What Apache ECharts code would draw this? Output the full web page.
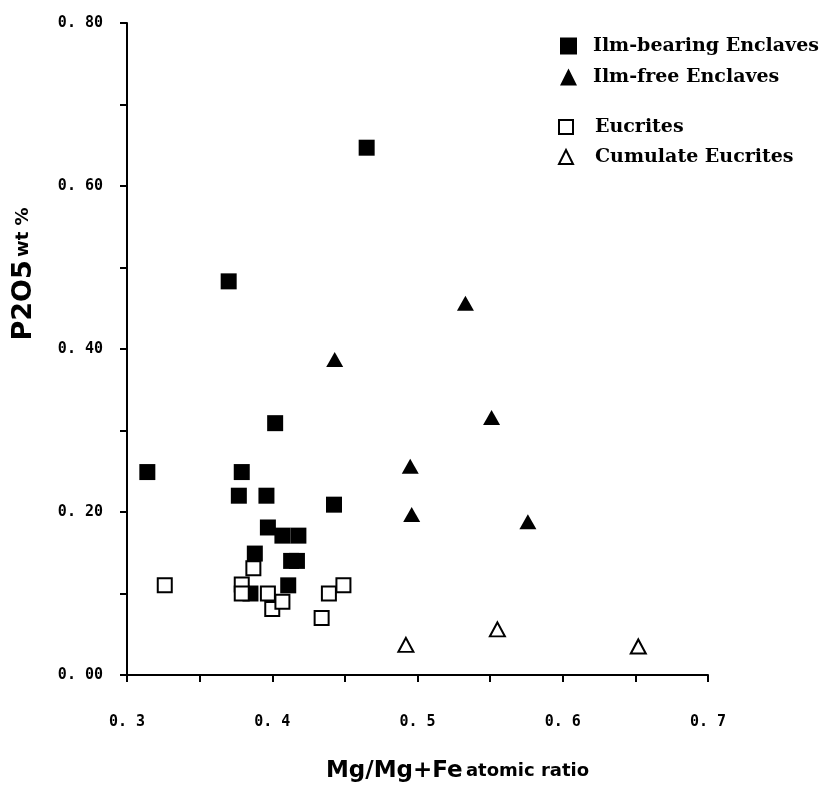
<!DOCTYPE html>
<html>
<head>
<meta charset="utf-8">
<script src="https://cdn.jsdelivr.net/npm/echarts@6/dist/echarts.min.js"></script>
<style>
html,body{margin:0;padding:0;background:#fff;}
#chart{width:829px;height:792px;}
</style>
</head>
<body>
<div id="chart"></div>
<script>
// ---- data ----
var seriesNames = ['Ilm-bearing Enclaves', 'Ilm-free Enclaves', 'Eucrites', 'Cumulate Eucrites'];
var ilmBearing = [[0.465,0.647],[0.370,0.483],[0.402,0.309],[0.314,0.249],[0.379,0.249],[0.377,0.220],[0.396,0.220],[0.4425,0.209],[0.397,0.181],[0.407,0.171],[0.418,0.171],[0.388,0.149],[0.413,0.140],[0.417,0.140],[0.411,0.110],[0.385,0.100]];
var ilmFree = [[0.533,0.456],[0.443,0.387],[0.551,0.316],[0.495,0.256],[0.496,0.197],[0.576,0.188]];
var eucrites = [[0.326,0.110],[0.379,0.111],[0.379,0.100],[0.387,0.131],[0.397,0.100],[0.400,0.081],[0.407,0.090],[0.434,0.070],[0.439,0.100],[0.449,0.110]];
var cumulate = [[0.492,0.037],[0.555,0.056],[0.652,0.035]];
var xTickValues = [0.3, 0.4, 0.5, 0.6, 0.7];
var xTickLabels = ['0. 3', '0. 4', '0. 5', '0. 6', '0. 7'];
var yTickValues = [0, 0.2, 0.4, 0.6, 0.8];
var yTickLabels = ['0. 00', '0. 20', '0. 40', '0. 60', '0. 80'];

function lookup(vals, labels, v) {
  for (var i = 0; i < vals.length; i++) if (Math.abs(vals[i] - v) < 1e-6) return labels[i];
  return '';
}

var chart = echarts.init(document.getElementById('chart'), null, {renderer: 'canvas'});
var tickFont = {fontFamily: '"DejaVu Sans Mono", monospace', fontWeight: 'bold', fontSize: 15, color: '#000'};
function legendText(pad) {
  return {fontFamily: '"DejaVu Serif", serif', fontWeight: 'bold', fontSize: 19, color: '#000', lineHeight: 22, padding: [0,0,0,pad]};
}

var option = {
  backgroundColor: '#fff',
  animation: false,
  grid: {left: 127, right: 121, top: 23, bottom: 117},
  legend: [
    {data: [seriesNames[0], seriesNames[1]], orient: 'vertical', left: 555, top: 30, itemWidth: 17, itemHeight: 17, itemGap: 9, textStyle: legendText(11)},
    {data: [seriesNames[2], seriesNames[3]], orient: 'vertical', left: 553, top: 111, itemWidth: 14, itemHeight: 14, itemGap: 8, textStyle: legendText(17)}
  ],
  xAxis: {
    type: 'value', min: 0.3, max: 0.7, interval: 0.05,
    name: '{a|Mg/Mg+Fe} {b|atomic ratio}',
    nameLocation: 'middle', nameGap: 85,
    nameTextStyle: {
      padding: [0, 0, 0, 80],
      rich: {
        a: {fontFamily: '"DejaVu Sans", sans-serif', fontWeight: 900, fontSize: 23, color: '#000'},
        b: {fontFamily: '"DejaVu Sans", sans-serif', fontWeight: 'bold', fontSize: 18, color: '#000'}
      }
    },
    axisLine: {lineStyle: {color: '#000', width: 2}},
    axisTick: {length: 7, lineStyle: {color: '#000', width: 2}},
    splitLine: {show: false},
    axisLabel: Object.assign({margin: 40, formatter: function (v) { return lookup(xTickValues, xTickLabels, v); }}, tickFont)
  },
  yAxis: {
    type: 'value', min: 0, max: 0.8, interval: 0.1,
    name: '{a|P2O5} {b|wt %}',
    nameLocation: 'middle', nameRotate: 90, nameGap: 90,
    nameTextStyle: {
      padding: [0, 0, 0, 150],
      rich: {
        a: {fontFamily: '"DejaVu Sans", sans-serif', fontWeight: 900, fontSize: 27, color: '#000'},
        b: {fontFamily: '"DejaVu Sans", sans-serif', fontWeight: 'bold', fontSize: 18, color: '#000'}
      }
    },
    axisLine: {lineStyle: {color: '#000', width: 2}},
    axisTick: {length: 7, lineStyle: {color: '#000', width: 2}},
    splitLine: {show: false},
    axisLabel: Object.assign({margin: 24, formatter: function (v) { return lookup(yTickValues, yTickLabels, v); }}, tickFont)
  },
  series: [
    {name: seriesNames[0], type: 'scatter', data: ilmBearing, symbol: 'rect', symbolSize: 16,
     itemStyle: {color: '#000', opacity: 1}},
    {name: seriesNames[1], type: 'scatter', data: ilmFree, symbol: 'triangle', symbolSize: [17, 15],
     itemStyle: {color: '#000', opacity: 1}},
    {name: seriesNames[2], type: 'scatter', data: eucrites, symbol: 'rect', symbolSize: 14,
     itemStyle: {color: '#fff', borderColor: '#000', borderWidth: 2, opacity: 1}},
    {name: seriesNames[3], type: 'scatter', data: cumulate, symbol: 'triangle', symbolSize: [15, 14],
     itemStyle: {color: '#fff', borderColor: '#000', borderWidth: 2, opacity: 1}}
  ]
};
chart.setOption(option);
</script>
</body>
</html>
